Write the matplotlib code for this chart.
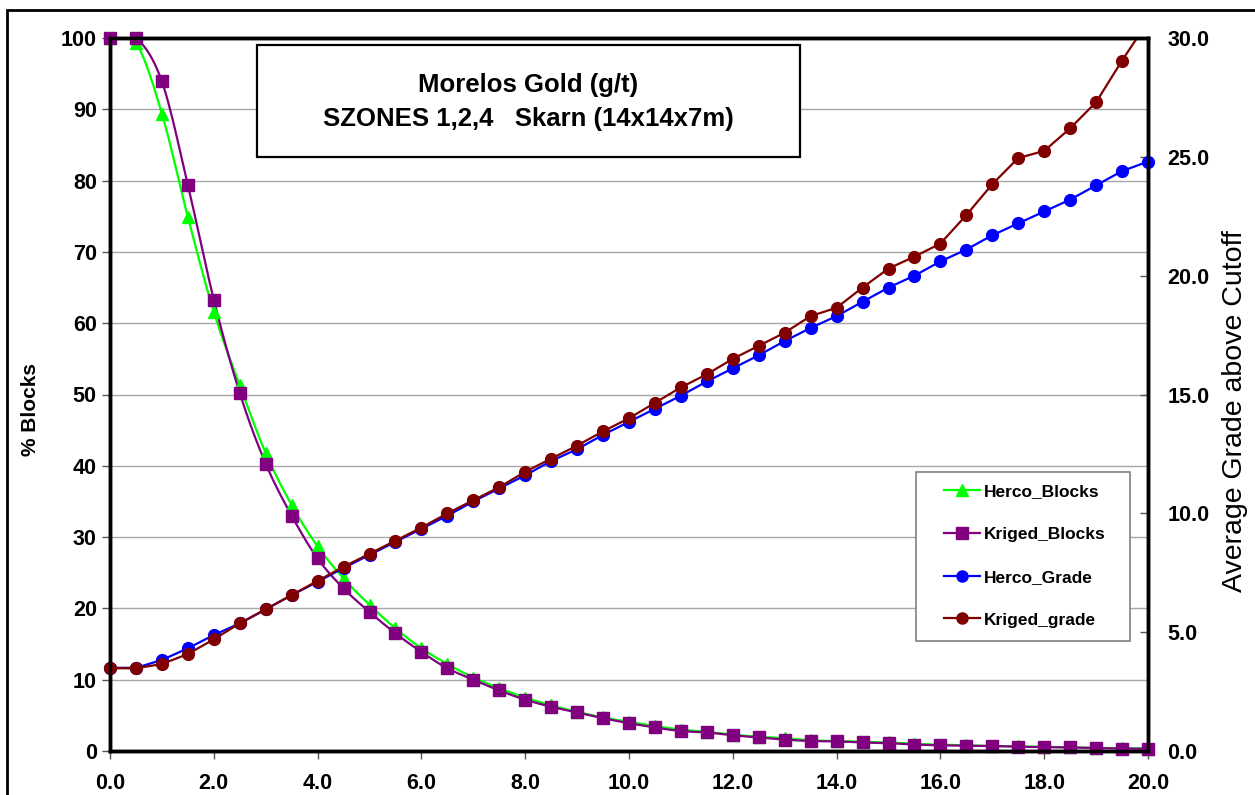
import numpy as np
import matplotlib
matplotlib.use('Agg')
import matplotlib.pyplot as plt
from matplotlib.patches import Rectangle
from matplotlib.lines import Line2D

plt.rcParams['font.family'] = ['Liberation Sans', 'DejaVu Sans']
plt.rcParams['font.weight'] = 'bold'

# cutoff grade (g/t), every 0.5
cutoff = np.arange(0, 20.5, 0.5)

herco_blocks = [100, 99.3, 89.4, 74.9, 61.6, 51.3, 41.8, 34.5, 28.7, 24.2,
                20.5, 17.2, 14.4, 12.2, 10.3, 8.8, 7.5, 6.4, 5.5, 4.7,
                4.1, 3.5, 3.0, 2.7, 2.3, 2.0, 1.8, 1.5, 1.4, 1.3,
                1.2, 1.0, 0.9, 0.8, 0.7, 0.65, 0.6, 0.5, 0.45, 0.4, 0.35]
kriged_blocks = [100, 100, 93.9, 79.4, 63.3, 50.2, 40.3, 33.0, 27.0, 22.8,
                 19.5, 16.5, 13.9, 11.6, 10.0, 8.5, 7.2, 6.2, 5.4, 4.6,
                 3.9, 3.3, 2.8, 2.6, 2.2, 1.9, 1.6, 1.4, 1.35, 1.2,
                 1.1, 0.9, 0.8, 0.75, 0.7, 0.6, 0.55, 0.5, 0.4, 0.35, 0.3]
herco_grade = [3.5, 3.5, 3.83, 4.32, 4.88, 5.37, 5.96, 6.56, 7.12, 7.7,
               8.25, 8.8, 9.35, 9.9, 10.5, 11.05, 11.6, 12.2, 12.7, 13.3,
               13.85, 14.4, 14.95, 15.55, 16.1, 16.65, 17.25, 17.8, 18.3, 18.9,
               19.5, 20.0, 20.6, 21.1, 21.7, 22.2, 22.7, 23.2, 23.8, 24.4, 24.8]
kriged_grade = [3.48, 3.48, 3.66, 4.08, 4.70, 5.37, 5.96, 6.56, 7.16, 7.75,
                8.3, 8.85, 9.4, 10.0, 10.55, 11.1, 11.75, 12.3, 12.85, 13.45,
                14.0, 14.65, 15.3, 15.85, 16.5, 17.05, 17.6, 18.3, 18.65, 19.5,
                20.3, 20.8, 21.35, 22.55, 23.85, 24.95, 25.25, 26.2, 27.3, 29.05, 30.7]

C_HB = '#00ff00'
C_KB = '#800080'
C_HG = '#0000ff'
C_KG = '#800000'


def smooth(x, y, n=12):
    """catmull-rom curve through the points, like excel's smoothed line"""
    x = np.asarray(x, float)
    y = np.asarray(y, float)
    px = np.concatenate([[2 * x[0] - x[1]], x, [2 * x[-1] - x[-2]]])
    py = np.concatenate([[2 * y[0] - y[1]], y, [2 * y[-1] - y[-2]]])
    t = np.linspace(0, 1, n, endpoint=False)
    xs, ys = [], []
    for i in range(1, len(px) - 2):
        for p, out in ((px, xs), (py, ys)):
            p0, p1, p2, p3 = p[i - 1], p[i], p[i + 1], p[i + 2]
            m1 = (p2 - p0) / 2
            m2 = (p3 - p1) / 2
            h00 = 2 * t**3 - 3 * t**2 + 1
            h10 = t**3 - 2 * t**2 + t
            h01 = -2 * t**3 + 3 * t**2
            h11 = t**3 - t**2
            out.extend(h00 * p1 + h10 * m1 + h01 * p2 + h11 * m2)
    xs.append(x[-1])
    ys.append(y[-1])
    return np.array(xs), np.array(ys)


fig = plt.figure(figsize=(12.55, 7.95), dpi=100)
ax = fig.add_axes([110 / 1255, 1 - 751 / 795, 1038 / 1255, 713 / 795])
ax2 = ax.twinx()

# outer frame of the picture
fig.patches.append(Rectangle((7 / 1255, -0.1), 1.1, 1 - 10 / 795 + 0.1,
                             transform=fig.transFigure, fill=False,
                             lw=2, ec='black'))

ax.set_xlim(0, 20)
ax.set_ylim(0, 100)
ax2.set_ylim(0, 30)
ax.set_yticks(range(0, 101, 10))
ax.set_xticks(np.arange(0, 20.1, 2))
ax.set_xticklabels([f'{v:.1f}' for v in np.arange(0, 20.1, 2)])
ax2.set_yticks(np.arange(0, 30.1, 5))
ax2.set_yticklabels([f'{v:.1f}' for v in np.arange(0, 30.1, 5)])
ax.tick_params(labelsize=15.5, length=6, direction='out', width=1, color='#555555')
ax.tick_params(axis='x', pad=10)
ax2.tick_params(labelsize=15.5, length=6, direction='in', width=1, color='#555555', pad=14)
ax.grid(axis='y', color='#a8a8a8', lw=1)
for a in (ax, ax2):
    for s in a.spines.values():
        s.set_linewidth(2.5)

# blocks (left axis), smoothed lines
for vals, col, mk, ms in ((herco_blocks, C_HB, '^', 8), (kriged_blocks, C_KB, 's', 8.5)):
    sx, sy = smooth(cutoff, vals)
    ax.plot(sx, sy, color=col, lw=1.6, zorder=3)
    ax.plot(cutoff, vals, ls='none', marker=mk, ms=ms, color=col, clip_on=False, zorder=4)

# grades (right axis)
ax2.plot(cutoff, herco_grade, color=C_HG, lw=1.6, marker='o', ms=8.5, clip_on=False)
ax2.plot(cutoff, kriged_grade, color=C_KG, lw=1.6)
ax2.plot(cutoff, np.ma.masked_greater(kriged_grade, 30), ls='none', marker='o', ms=8.5,
         color=C_KG, clip_on=False)

# title box
ax2.add_patch(Rectangle((0.1416, 0.833), 0.523, 0.157, transform=ax2.transAxes,
                        fc='white', ec='black', lw=1.6, zorder=5))
ax2.text(0.403, 0.934, 'Morelos Gold (g/t)', transform=ax2.transAxes, ha='center',
         va='center', fontsize=18.5, fontweight='bold', zorder=6)
ax2.text(0.403, 0.886, 'SZONES 1,2,4   Skarn (14x14x7m)', transform=ax2.transAxes,
         ha='center', va='center', fontsize=18.5, fontweight='bold', zorder=6)

fig.text(30 / 1255, 1 - 410 / 795, '% Blocks', rotation=90, ha='center', va='center',
         fontsize=15, fontweight='bold')
fig.text(1235 / 1255, 1 - 411 / 795, 'Average Grade above Cutoff', rotation=90,
         ha='center', va='center', fontsize=20.5, fontweight='normal')

# legend frame drawn separately so the padding can match
ax2.add_patch(Rectangle((0.7765, 0.1543), 0.2062, 0.237, transform=ax2.transAxes,
                        fc='white', ec='#808080', lw=1.2, zorder=5))
handles = [Line2D([], [], color=C_HB, marker='^', ms=8, lw=1.6),
           Line2D([], [], color=C_KB, marker='s', ms=8, lw=1.6),
           Line2D([], [], color=C_HG, marker='o', ms=8, lw=1.6),
           Line2D([], [], color=C_KG, marker='o', ms=8, lw=1.6)]
leg = ax2.legend(handles, ['Herco_Blocks', 'Kriged_Blocks', 'Herco_Grade', 'Kriged_grade'],
                 loc='upper left', bbox_to_anchor=(0.8035, 0.375), fontsize=12.5,
                 frameon=False, labelspacing=1.6, handlelength=2.07,
                 handletextpad=0.23, borderpad=0, borderaxespad=0)
leg.set_zorder(6)

fig.savefig('out.png', dpi=100)
